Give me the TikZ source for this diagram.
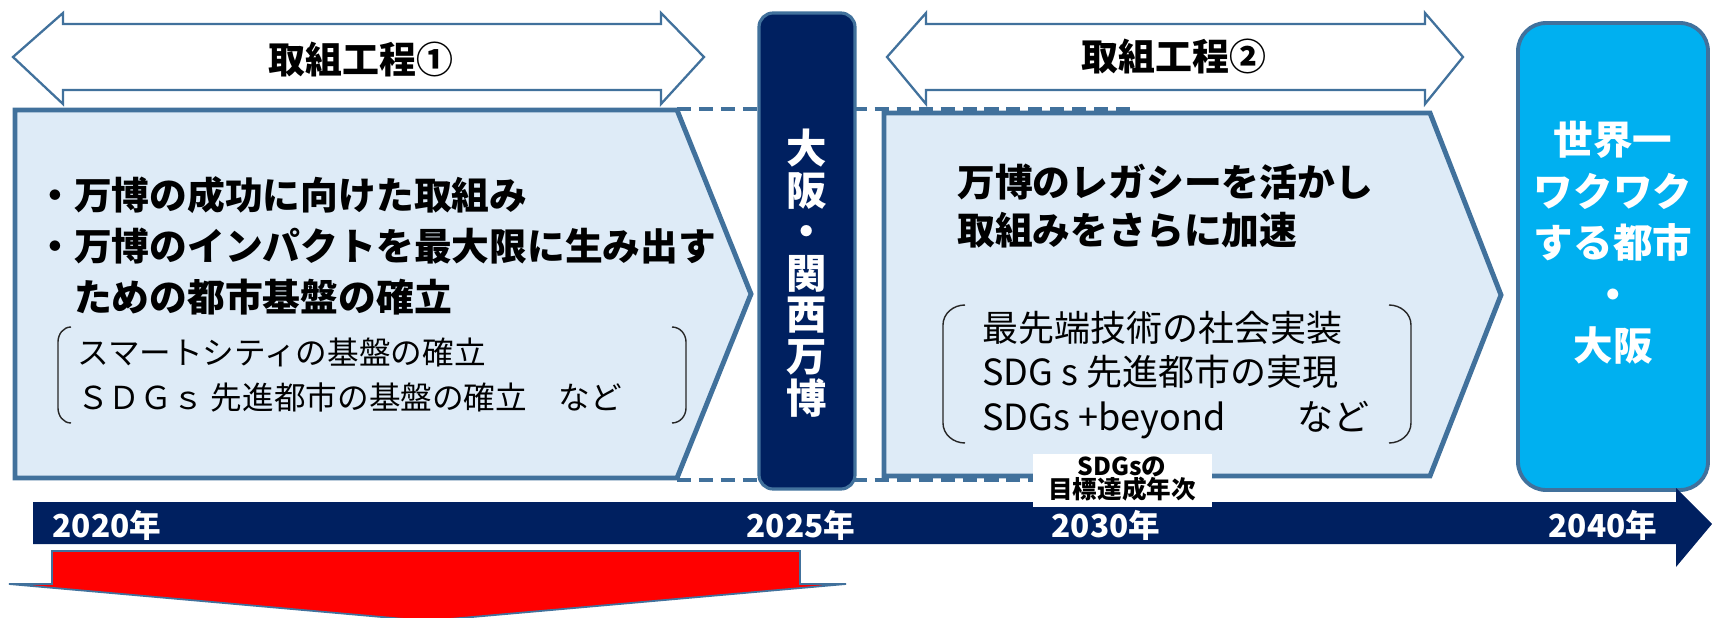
\documentclass[tikz,border=0pt]{standalone}
\usepackage{fontspec}
\setmainfont{Noto Sans CJK JP}
\usetikzlibrary{positioning}
\definecolor{edgeblue}{HTML}{41719C}
\definecolor{paleblue}{HTML}{DEEBF7}
\definecolor{expoblue}{HTML}{002060}
\definecolor{skyblue}{HTML}{00B0F0}

\begin{document}
\begin{tikzpicture}[x=0.02cm, y=-0.02cm,
    phase/.style={draw=edgeblue, line width=2.8pt, fill=paleblue},
    span/.style={draw=edgeblue, line width=1.3pt, fill=white},
    link/.style={draw=edgeblue, line width=2.3pt, dash pattern=on 8pt off 4.5pt},
    paren/.style={draw=black!85, line width=0.8pt},
    bigtext/.style={font=\bfseries\fontsize{21.5}{29}\selectfont, align=left, inner sep=0pt, anchor=west},
    year/.style={text=white, font=\bfseries\fontsize{18}{20}\selectfont, inner sep=0pt}]
  \useasboundingbox (0,0) rectangle (1712,618);
  \draw [span] (13,57) -- (63,13) -- (63,24) -- (661,24) -- (661,13) -- (704,57)
    -- (661,104) -- (661,90) -- (63,90) -- (63,104) -- cycle;
  \draw [span] (887,57) -- (926,13) -- (926,24) -- (1425,24) -- (1425,13) -- (1463,57)
    -- (1425,104) -- (1425,90) -- (926,90) -- (926,104) -- cycle;
  \node [font=\bfseries\fontsize{21}{24}\selectfont] (proc1) at (361,60) {取組工程①};
  \node [font=\bfseries\fontsize{21}{24}\selectfont] (proc2) at (1174,57) {取組工程②};
  \draw [link] (677,109) -- (1130,109); \draw [link] (677,480) -- (1130,480);
  \draw [phase] (15,110) -- (677,110) -- (751,294) -- (677,478) -- (15,478) -- cycle;
  \draw [phase] (884,113) -- (1430,113) -- (1501,295) -- (1430,476) -- (884,476) -- cycle;
  \draw [draw=edgeblue, line width=1.8pt, fill=expoblue, rounded corners=8pt]
    (759,13) rectangle (855,489);
  \draw [draw=edgeblue, line width=2.2pt, fill=skyblue, rounded corners=16pt]
    (1518,23) rectangle (1708,490);
  \fill [expoblue] (33,502) -- (1676,502) -- (1676,488) -- (1712,524) -- (1676,567)
    -- (1676,544) -- (33,544) -- cycle;
  \fill [white] (1033,454) rectangle (1212,507);
  \draw [draw=edgeblue, line width=1pt, fill=red] (52,551) -- (800,551) -- (800,584)
    -- (846,584) -- (427,621) -- (9,584) -- (52,584) -- cycle;
  % texts in the two phases
  \node [bigtext] (goal1) at (36,246)
    {・万博の成功に向けた取組み\\・万博のインパクトを最大限に生み出す\\　ための都市基盤の確立};
  \node [bigtext, font=\fontsize{18}{25.5}\selectfont] (items1) at (77,375)
    {スマートシティの基盤の確立\\ＳＤＧｓ 先進都市の基盤の確立　など};
  \draw [paren] (71,327) to[out=180,in=90] (58,342) -- (58,408) to[out=-90,in=180] (71,423);
  \draw [paren] (672,327) to[out=0,in=90] (686,342) -- (686,408) to[out=-90,in=0] (672,423);
  \node [bigtext, font=\bfseries\fontsize{21.5}{27.2}\selectfont] (goal2) at (957,206)
    {万博のレガシーを活かし\\取組みをさらに加速};
  \node [bigtext, font=\fontsize{20.5}{25.5}\selectfont] (items2) at (982,375)
    {最先端技術の社会実装\\SDG s 先進都市の実現\\SDGs +beyond　　など};
  \draw [paren] (965,305) to[out=180,in=90] (943,325) -- (943,423) to[out=-90,in=180] (965,443);
  \draw [paren] (1389,305) to[out=0,in=90] (1411,325) -- (1411,423) to[out=-90,in=0] (1389,443);
  % milestones
  \node [text=white, font=\bfseries\fontsize{23}{23.7}\selectfont, align=center] (expo)
    at (807,273) {大\\阪\\・\\関\\西\\万\\博};
  \node [text=white, font=\bfseries\fontsize{22.5}{29.3}\selectfont, align=center] (vision)
    at (1613,243) {世界一\\ワクワク\\する都市\\・\\大阪};
  \node [year] (y2020) at (107,525) {2020年}; \node [year] (y2025) at (801,525) {2025年};
  \node [year] (y2030) at (1106,525) {2030年}; \node [year] (y2040) at (1603,525) {2040年};
  \node [font=\bfseries\fontsize{14}{13.5}\selectfont, align=center, inner sep=0pt] (sdgs)
    at (1122,479) {SDGsの\\目標達成年次};
\end{tikzpicture}
\end{document}
